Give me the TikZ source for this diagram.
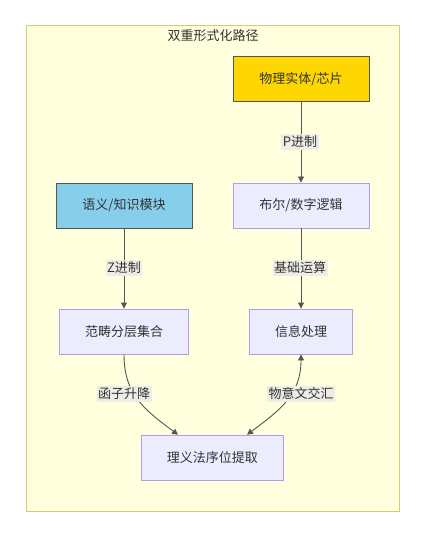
\documentclass[tikz,border=0pt]{standalone}
\usepackage{fontspec}
\setmainfont{Noto Sans CJK SC}
\usetikzlibrary{arrows.meta}
\definecolor{clusterfill}{HTML}{FFFFDE}
\definecolor{clusterdraw}{HTML}{CDCD7A}
\definecolor{nodefill}{HTML}{ECECFF}
\definecolor{nodedraw}{HTML}{B39DE8}
\definecolor{goldfill}{HTML}{FFD700}
\definecolor{skyfill}{HTML}{87CEEB}
\definecolor{darkdraw}{HTML}{555555}
\definecolor{txt}{HTML}{333333}
\definecolor{edge}{HTML}{555555}
\definecolor{labelbg}{HTML}{EDEDE6}
\tikzset{
  box/.style={draw=nodedraw, fill=nodefill, line width=0.9pt, minimum height=45pt,
    text=txt, font=\fontsize{13pt}{15pt}\selectfont, inner sep=0pt},
  goldbox/.style={box, fill=goldfill, draw=darkdraw},
  skybox/.style={box, fill=skyfill, draw=darkdraw},
  elabel/.style={fill=labelbg, text=txt, font=\fontsize{13pt}{15pt}\selectfont,
    inner xsep=1.5pt, inner ysep=2pt},
  conn/.style={draw=edge, line width=0.9pt, -{Triangle[length=6pt,width=6pt]}},
  conn2/.style={draw=edge, line width=0.9pt, {Triangle[length=6pt,width=6pt]}-{Triangle[length=6pt,width=6pt]}}
}
\begin{document}
\begin{tikzpicture}[x=1pt,y=-1pt]
\useasboundingbox (0,0) rectangle (426,537);
\fill[white] (0,0) rectangle (426,537);
\draw[fill=clusterfill, draw=clusterdraw, line width=1pt] (26,25.5) rectangle (399.5,511);
\node[text=txt, font=\fontsize{13pt}{15pt}\selectfont] (title) at (213,36) {双重形式化路径};

\node[goldbox, minimum width=136pt] (phys) at (301,79) {物理实体/芯片};
\node[box, minimum width=136pt] (bool) at (301,205.5) {布尔/数字逻辑};
\node[skybox, minimum width=136pt] (sem) at (124,205.5) {语义/知识模块};
\node[box, minimum width=129pt] (cat) at (124,331.5) {范畴分层集合};
\node[box, minimum width=103pt] (info) at (301,331.5) {信息处理};
\node[box, minimum width=142pt] (extract) at (212.3,457.7) {理义法序位提取};

\coordinate (eL) at ([xshift=-34.3pt]extract.north);
\coordinate (eR) at ([xshift=34.7pt]extract.north);

\draw[conn] (phys) -- (bool);
\draw[conn] (sem) -- (cat);
\draw[conn] (bool) -- (info);
\draw[conn] (cat.south) .. controls (124,395) and (145,410) .. (eL);
\draw[conn2] (info.south) .. controls (301,395) and (280,410) .. (eR);

\node[elabel] (lp) at (300,141.7) {P进制};
\node[elabel] (lz) at (124,268) {Z进制};
\node[elabel] (lb) at (300,268) {基础运算};
\node[elabel] (lf) at (124,394) {函子升降};
\node[elabel] (lw) at (301,394) {物意文交汇};
\end{tikzpicture}
\end{document}
